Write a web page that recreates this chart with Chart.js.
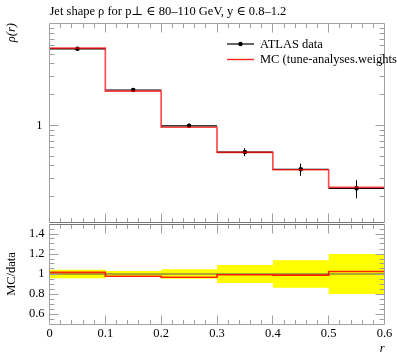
<!DOCTYPE html>
<html><head><meta charset="utf-8">
<script src="https://cdn.jsdelivr.net/npm/chart.js@4/dist/chart.umd.min.js"></script>
<style>
html,body{margin:0;padding:0;background:#fff;width:397px;height:358px;overflow:hidden}
#c1{position:absolute;left:0;top:0}
#c2{position:absolute;left:0;top:220px}
</style></head><body>
<canvas id="c1" width="397" height="226"></canvas>
<canvas id="c2" width="397" height="138"></canvas>
<script>
// ---- data ----
const binEdges   = [0, 0.1, 0.2, 0.3, 0.4, 0.5, 0.6];
const binCentres = [0.05, 0.15, 0.25, 0.35, 0.45, 0.55];
const dataValues = [5.63, 2.22, 0.99, 0.547, 0.371, 0.241];
const dataRelErr = [0.043, 0.03, 0.048, 0.09, 0.138, 0.2];
const mcValues   = [5.72, 2.17, 0.958, 0.543, 0.367, 0.247];
const mainYTicks  = [1];
const mainYMinor  = [0.2,0.3,0.4,0.5,0.6,0.7,0.8,0.9,2,3,4,5,6,7,8,9];
const ratioYTicks = [0.6, 0.8, 1, 1.2, 1.4];
const xTicks      = [0, 0.1, 0.2, 0.3, 0.4, 0.5, 0.6];
const titleText   = 'Jet shape ρ for p⊥ ∈ 80–110 GeV, y ∈ 0.8–1.2';
const legendLabels = ['ATLAS data', 'MC (tune-analyses.weights)'];

const FONT = "'Liberation Serif', 'DejaVu Serif', serif";
Chart.defaults.font.family = FONT;
Chart.defaults.color = '#000';

const ratioValues = mcValues.map((v, i) => v / dataValues[i]);
function stepPoints(vals) {
  return binEdges.map((x, i) => ({x: x, y: vals[Math.min(i, vals.length - 1)]}));
}
const xMinor = [];
for (let i = 1; i < 30; i++) if (i % 5) xMinor.push(i / 50);
const ratioYMinor = [];
for (let i = 11; i < 30; i++) if (i % 4 !== 0) ratioYMinor.push(i / 20);

const FRAME = '#a0a0a0';
const NOGRID = {display: false, drawTicks: false};
function crisp(v) { return Math.round(v - 0.5) + 0.5; }
function noPad(s) { s.paddingTop = 0; s.paddingBottom = 0; s.paddingLeft = 0; s.paddingRight = 0; }

function drawFrameTicks(chart, yMajor, yMinor, bottomColor, topColor) {
  const {ctx, chartArea: a} = chart;
  const xs = chart.scales.x, ys = chart.scales.y;
  const L = crisp(a.left), R = crisp(a.right), T = crisp(a.top + 0.5), B = crisp(a.bottom + 0.5);
  ctx.save();
  ctx.lineWidth = 1;
  ctx.strokeStyle = FRAME;
  ctx.beginPath();
  ctx.moveTo(L, T); ctx.lineTo(L, B);
  ctx.moveTo(R, T); ctx.lineTo(R, B);
  const tick = (vals, len) => {
    vals.forEach(v => {
      const px = crisp(xs.getPixelForValue(v));
      ctx.moveTo(px, B); ctx.lineTo(px, B - len);
      ctx.moveTo(px, T); ctx.lineTo(px, T + len);
    });
  };
  tick(xMinor, 4.5);
  tick(xTicks.slice(1, -1), 9);
  const ytick = (vals, len) => {
    vals.forEach(v => {
      const py = crisp(ys.getPixelForValue(v));
      ctx.moveTo(L, py); ctx.lineTo(L + len, py);
      ctx.moveTo(R, py); ctx.lineTo(R - len, py);
    });
  };
  ytick(yMinor, 5);
  ytick(yMajor, 9);
  ctx.stroke();
  ctx.beginPath(); ctx.strokeStyle = topColor; ctx.moveTo(L, T); ctx.lineTo(R, T); ctx.stroke();
  ctx.beginPath(); ctx.strokeStyle = bottomColor; ctx.moveTo(L, B); ctx.lineTo(R, B); ctx.stroke();
  ctx.restore();
}

const mainPlugin = {
  id: 'mainDeco',
  beforeDatasetsDraw(chart) {
    const {ctx} = chart;
    const xs = chart.scales.x, ys = chart.scales.y;
    ctx.save();
    ctx.strokeStyle = '#000';
    dataValues.forEach((v, i) => {
      const y = ys.getPixelForValue(v);
      ctx.lineWidth = 1.2;
      ctx.beginPath();
      ctx.moveTo(xs.getPixelForValue(binEdges[i]), y);
      ctx.lineTo(xs.getPixelForValue(binEdges[i + 1]), y);
      ctx.stroke();
      const xc = crisp(xs.getPixelForValue(binCentres[i]));
      ctx.lineWidth = 1;
      ctx.beginPath();
      ctx.moveTo(xc, ys.getPixelForValue(v * (1 + dataRelErr[i])));
      ctx.lineTo(xc, ys.getPixelForValue(v * (1 - dataRelErr[i])));
      ctx.stroke();
    });
    ctx.restore();
  },
  afterDatasetsDraw(chart) {
    drawFrameTicks(chart, mainYTicks, mainYMinor, '#777', FRAME);
    // legend
    const {ctx} = chart;
    ctx.save();
    const x0 = 227, x1 = 254, ya = 44, yb = 59.5;
    ctx.lineWidth = 1.2;
    ctx.strokeStyle = '#000';
    ctx.beginPath(); ctx.moveTo(x0, ya); ctx.lineTo(x1, ya); ctx.stroke();
    ctx.fillStyle = '#000';
    ctx.beginPath(); ctx.arc((x0 + x1) / 2, ya, 2.2, 0, Math.PI * 2); ctx.fill();
    ctx.strokeStyle = 'rgba(255,0,0,0.85)';
    ctx.lineWidth = 1.4;
    ctx.beginPath(); ctx.moveTo(x0, yb); ctx.lineTo(x1, yb); ctx.stroke();
    ctx.font = '12.5px ' + FONT;
    ctx.textBaseline = 'middle';
    ctx.textAlign = 'left';
    ctx.fillText(chart.data.datasets[1].label, 260, ya + 0.5);
    ctx.fillText(chart.data.datasets[0].label, 260, yb + 0.5);
    ctx.restore();
  }
};

new Chart(document.getElementById('c1'), {
  type: 'line',
  data: {
    datasets: [
      {
        label: legendLabels[1],
        data: stepPoints(mcValues),
        stepped: true,
        borderColor: 'rgba(255,0,0,0.7)',
        borderWidth: 1.7,
        pointRadius: 0,
        fill: false,
        order: 1
      },
      {
        label: legendLabels[0],
        data: binCentres.map((x, i) => ({x: x, y: dataValues[i]})),
        showLine: false,
        pointRadius: 2.3,
        pointBackgroundColor: '#000',
        pointBorderColor: '#000',
        pointBorderWidth: 0,
        order: 2
      }
    ]
  },
  options: {
    responsive: false,
    animation: false,
    events: [],
    layout: {padding: {left: 0, right: 12.5, top: 0, bottom: 2}},
    plugins: {
      legend: {display: false},
      tooltip: {enabled: false},
      title: {
        display: true,
        text: titleText,
        align: 'start',
        fullSize: false,
        color: '#000',
        font: {size: 12.5, weight: 'normal', family: FONT},
        padding: {top: 4, bottom: 4}
      }
    },
    scales: {
      x: {
        type: 'linear', min: 0, max: 0.6,
        grid: NOGRID, border: {display: false},
        ticks: {display: false},
        afterFit(s) { s.height = 0; noPad(s); }
      },
      y: {
        type: 'logarithmic', min: 0.1128, max: 10.08,
        grid: NOGRID, border: {display: false},
        afterBuildTicks(s) { s.ticks = mainYTicks.map(v => ({value: v})); },
        ticks: {padding: 7, font: {size: 12.5}, color: '#000', callback: v => String(v)},
        title: {display: true, text: 'ρ(r)', align: 'end', color: '#000',
                font: {size: 12.5, style: 'italic'}, padding: {top: 4, bottom: 0}},
        afterFit(s) { s.width = 49.5; noPad(s); }
      }
    }
  },
  plugins: [mainPlugin]
});

const ratioPlugin = {
  id: 'ratioDeco',
  afterDatasetsDraw(chart) {
    drawFrameTicks(chart, ratioYTicks, ratioYMinor, FRAME, '#777');
  }
};

new Chart(document.getElementById('c2'), {
  type: 'line',
  data: {
    datasets: [
      {
        label: 'data uncertainty (up)',
        data: stepPoints(dataRelErr.map(e => 1 + e)),
        stepped: true, borderWidth: 0, pointRadius: 0,
        borderColor: 'rgba(0,0,0,0)',
        backgroundColor: '#ffff00',
        fill: '+1',
        order: 4
      },
      {
        label: 'data uncertainty (down)',
        data: stepPoints(dataRelErr.map(e => 1 - e)),
        stepped: true, borderWidth: 0, pointRadius: 0,
        borderColor: 'rgba(0,0,0,0)',
        fill: false,
        order: 3
      },
      {
        label: 'ATLAS data',
        data: [{x: binEdges[0], y: 1}, {x: binEdges[binEdges.length - 1], y: 1}],
        borderColor: '#555', borderWidth: 1, pointRadius: 0, fill: false,
        order: 2
      },
      {
        label: legendLabels[1],
        data: stepPoints(ratioValues),
        stepped: true,
        borderColor: 'rgba(255,0,0,0.85)',
        borderWidth: 1.7,
        pointRadius: 0,
        fill: false,
        order: 1
      }
    ]
  },
  options: {
    responsive: false,
    animation: false,
    events: [],
    layout: {padding: {left: 0, right: 12.5, top: 4, bottom: 0}},
    plugins: {legend: {display: false}, tooltip: {enabled: false}},
    scales: {
      x: {
        type: 'linear', min: 0, max: 0.6,
        grid: NOGRID, border: {display: false},
        afterBuildTicks(s) { s.ticks = xTicks.map(v => ({value: v})); },
        ticks: {padding: 2, autoSkip: false, maxRotation: 0, font: {size: 12.5}, color: '#000',
                callback: v => String(+v.toFixed(1))},
        title: {display: true, text: 'r', align: 'end', color: '#000',
                font: {size: 12.5, style: 'italic'}, padding: {top: 0, bottom: 2}},
        afterFit(s) { s.height = 34; noPad(s); }
      },
      y: {
        type: 'linear', min: 0.5, max: 1.5,
        grid: NOGRID, border: {display: false},
        afterBuildTicks(s) { s.ticks = ratioYTicks.map(v => ({value: v})); },
        ticks: {padding: 5, font: {size: 12.5}, color: '#000', callback: v => String(+v.toFixed(1))},
        title: {display: true, text: 'MC/data', color: '#000',
                font: {size: 12.5}, padding: {top: 4, bottom: 0}},
        afterFit(s) { s.width = 49.5; noPad(s); }
      }
    }
  },
  plugins: [ratioPlugin]
});
</script>
</body></html>
